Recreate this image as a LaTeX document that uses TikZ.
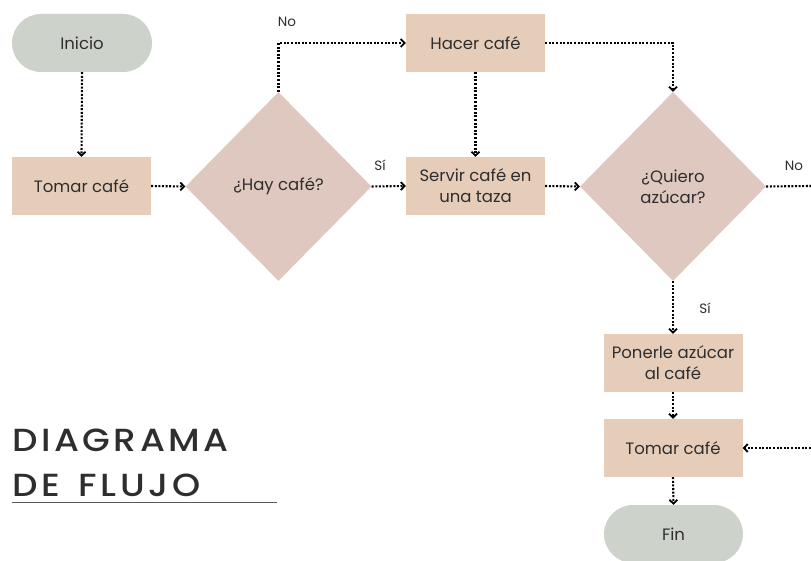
\documentclass[tikz,border=0pt]{standalone}
\usepackage{fontspec}
\setmainfont{Poppins}
\newfontfamily\titlefont[LetterSpace=11, FakeStretch=1.12]{Poppins Medium}
\usetikzlibrary{arrows.meta,shapes.geometric}
\definecolor{termcol}{HTML}{CDD2CB}
\definecolor{stepcol}{HTML}{E6CDBA}
\definecolor{askcol}{HTML}{DEC8BF}
\definecolor{inkcol}{HTML}{2E2E2E}
\tikzset{
  terminal/.style={fill=termcol, rounded corners=29pt, minimum width=140pt, minimum height=58pt, inner sep=0pt, text=inkcol, font=\fontsize{16.5}{21}\selectfont},
  stepbox/.style={fill=stepcol, minimum width=139pt, minimum height=58pt, inner sep=0pt, align=center, text=inkcol, font=\fontsize{16.5}{21}\selectfont},
  askbox/.style={diamond, fill=askcol, minimum width=186pt, minimum height=189pt, inner sep=0pt, align=center, text=inkcol, font=\fontsize{16.5}{21}\selectfont},
  flow/.style={line width=2.1pt, dash pattern=on 2pt off 1.6pt, -{Straight Barb[length=3.8pt,width=8pt,line width=1.8pt]}},
  tag/.style={text=inkcol, font=\fontsize{13.5}{16}\selectfont, inner sep=0pt},
  heading/.style={anchor=base west, inner sep=0pt, text=inkcol, font=\titlefont\fontsize{32}{36}\selectfont}
}
\begin{document}
\begin{tikzpicture}[x=1pt, y=-1pt]
  \useasboundingbox (0,0) rectangle (811,561);
  % shapes
  \node[terminal] (inicio) at (82,43) {Inicio};
  \node[stepbox] (tomar1) at (81.5,186) {Tomar café};
  \node[askbox] (hay) at (278.5,186.5) {¿Hay café?};
  \node[stepbox] (hacer) at (475.5,43) {Hacer café};
  \node[stepbox] (servir) at (475.5,186) {Servir café en\\una taza};
  \node[askbox] (quiero) at (673,186.5) {¿Quiero\\azúcar?};
  \node[stepbox] (poner) at (673,363) {Ponerle azúcar\\al café};
  \node[stepbox] (tomar2) at (673,448) {Tomar café};
  \node[terminal, minimum width=139pt, minimum height=58pt] (fin) at (673.5,534) {Fin};
  \coordinate (outno) at (811,186);
  \coordinate (inback) at (811,448);
  % connectors
  \draw[flow] (inicio.south) -- (tomar1.north);
  \draw[flow] (tomar1.east) -- (hay.west);
  \draw[flow] (hay.north) |- (hacer.west);
  \draw[flow] (hay.east) -- (servir.west);
  \draw[flow] (hacer.south) -- (servir.north);
  \draw[flow] (hacer.east) -| (quiero.north);
  \draw[flow] (servir.east) -- (quiero.west);
  \draw[flow, -] (quiero.east) -- (outno);
  \draw[flow] (quiero.south) -- (poner.north);
  \draw[flow] (poner.south) -- (tomar2.north);
  \draw[flow] (inback) -- (tomar2.east);
  \draw[flow] (tomar2.south) -- (fin.north);
  % branch labels
  \node[tag] (no1) at (287,22) {No};
  \node[tag] (si1) at (380,165) {Sí};
  \node[tag] (no2) at (794,166) {No};
  \node[tag] (si2) at (705,308) {Sí};
  % title
  \node[heading] (t1) at (12,451) {DIAGRAMA};
  \node[heading] (t2) at (12,496) {DE\hspace{6pt} FLUJO};
  \draw[line width=1.3pt, color=inkcol!80] (12,502.5) -- (277,502.5);
\end{tikzpicture}
\end{document}
